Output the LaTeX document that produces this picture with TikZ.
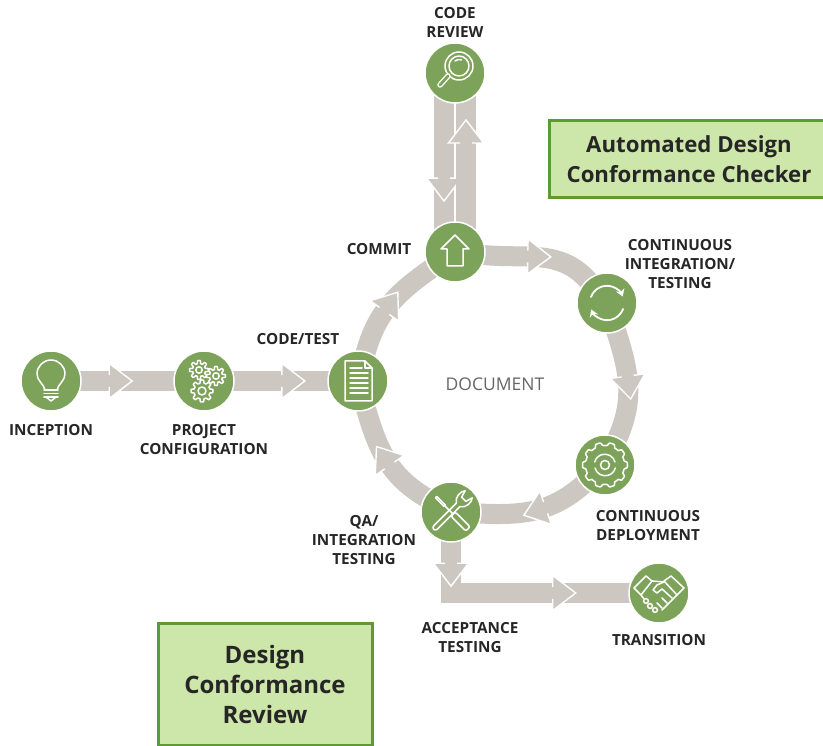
\documentclass[tikz,border=0pt]{standalone}
\usepackage{fontspec}
\setmainfont{Open Sans}
\usetikzlibrary{arrows.meta,backgrounds,decorations.markings}

\definecolor{stepgreen}{HTML}{7DA35A}
\definecolor{bandgrey}{HTML}{CDC7C2}
\definecolor{boxfill}{HTML}{CDE6A9}
\definecolor{boxedge}{HTML}{5E9A32}
\definecolor{labelink}{HTML}{262626}

% Arrow head on a band, base at the mark
\newcommand{\bandhead}{%
    \fill[bandgrey] (0,-17.5) -- (23,0) -- (0,17.5) -- cycle;
    \draw[white,line width=1.4pt,line join=miter] (0,10) -- (0,17.5) -- (23,0) -- (0,-17.5) -- (0,-10);
}

% Gear outline: x, y, radius, teeth
\newcommand{\gearline}[4]{%
    \draw[iconline,shift={(#1,#2)}] plot[domain=0:360,samples=145]
        (\x:{#3+1.5*max(-1,min(1,2.5*cos(#4*\x)))}) -- cycle;
}

\tikzset{
    stepnode/.style={circle,fill=stepgreen,draw=white,line width=1.5pt,minimum size=60pt,inner sep=0pt},
    band/.style={draw=bandgrey,line width=20pt,shorten <=-4pt,shorten >=-4pt},
    headat/.style={postaction={decorate,decoration={markings,mark=at position #1 with {\bandhead}}}},
    steplabel/.style={font=\bfseries\fontsize{15.3}{19}\selectfont,text=labelink,align=center,inner sep=0pt},
    notebox/.style={fill=boxfill,draw=boxedge,line width=3pt,font=\bfseries,text=labelink,align=center,inner sep=0pt},
    iconline/.style={draw=white,line width=1.5pt,line join=round,line cap=round},
}

\begin{document}
\begin{tikzpicture}[x=1pt,y=1pt]
    \useasboundingbox (0,0) rectangle (823,746);

    % Steps
    \node[stepnode] (inception) at (51,365) {};
    \node[stepnode] (project) at (204,365) {};
    \node[stepnode] (codetest) at (358,365) {};
    \node[stepnode] (commit) at (455,494) {};
    \node[stepnode] (review) at (455,673) {};
    \node[stepnode] (integration) at (607,443) {};
    \node[stepnode] (deployment) at (605,281) {};
    \node[stepnode] (qa) at (451,234) {};
    \node[stepnode] (transition) at (659,153) {};

    % Bands
    \begin{scope}[on background layer]
        \draw[band,headat=.3] (inception) -- (project);
        \draw[band,headat=.51] (project) -- (codetest);
        \draw[band,headat=.42] (codetest) to[out=75,in=215] (commit);
        \draw[band,headat=.39] (commit) to[out=-6,in=130] (integration);
        \draw[band,headat=.42] (integration) to[out=-72,in=65] (deployment);
        \draw[band,headat=.4] (deployment) to[out=222,in=-3] (qa);
        \draw[band,headat=.44] (qa) to[out=150,in=-74] (codetest);
        \draw[band,headat=.587] ([xshift=-11pt]review.center) -- ([xshift=-11pt]commit.center);
        \draw[band,headat=.609] ([xshift=11pt]commit.center) -- ([xshift=11pt]review.center);
        \draw[band,headat=.09,headat=.668] (qa) |- (transition);
    \end{scope}

    % Boxes
    \node[notebox,minimum width=280pt,minimum height=77pt,font=\bfseries\fontsize{22.2}{30}\selectfont] (checker) at (689,587)
        {Automated Design\\Conformance Checker};
    \node[notebox,minimum width=214pt,minimum height=122pt,font=\bfseries\fontsize{24}{30}\selectfont] (conformance) at (265,61)
        {Design\\Conformance\\Review};

    % Labels
    \node[steplabel] (inceptionlabel) at (51,316) {INCEPTION};
    \node[steplabel] (projectlabel) at (204,306) {PROJECT\\CONFIGURATION};
    \node[steplabel] (codetestlabel) at (298,407) {CODE/TEST};
    \node[steplabel] (commitlabel) at (379,497) {COMMIT};
    \node[steplabel] (reviewlabel) at (455,724) {CODE\\REVIEW};
    \node[steplabel] (integrationlabel) at (680,482) {CONTINUOUS\\INTEGRATION/\\TESTING};
    \node[steplabel] (deploymentlabel) at (648,220) {CONTINUOUS\\DEPLOYMENT};
    \node[steplabel] (qalabel) at (364,206) {QA/\\INTEGRATION\\TESTING};
    \node[steplabel] (acceptancelabel) at (470,108) {ACCEPTANCE\\TESTING};
    \node[steplabel] (transitionlabel) at (659,106) {TRANSITION};
    \node[font=\fontsize{17.5}{20}\selectfont,text=black!60,inner sep=0pt] (document) at (495,362) {DOCUMENT};

    % Bulb
    \begin{scope}[shift={(inception.center)}]
        \draw[iconline] (-6,-9) .. controls (-7,-3) and (-14,0) .. (-14,7) arc (180:0:14) .. controls (14,0) and (7,-3) .. (6,-9);
        \foreach \y in {-9,-12.5,-16} {
            \draw[iconline] (-7,\y) -- (7,\y);
        }
        \draw[iconline] (-5,-16) -- (0,-20) -- (5,-16);
    \end{scope}

    % Three gears
    \begin{scope}[shift={(project.center)}]
        \gearline{-5}{11}{8}{8}
        \gearline{12}{5}{8}{8}
        \gearline{-2}{-10}{9.5}{8}
        \draw[iconline] (-5,11) circle (3.2);
        \draw[iconline] (12,5) circle (3.2);
        \draw[iconline] (-2,-10) circle (4);
    \end{scope}

    % Page
    \begin{scope}[shift={(codetest.center)}]
        \draw[iconline] (-13,20) -- (7,20) -- (14,13) -- (14,-20) -- (-13,-20) -- cycle;
        \draw[iconline] (7,20) -- (7,13) -- (14,13);
        \foreach \x/\y in {4/13,10/8,10/3,10/-2,10/-7,10/-12} {
            \draw[iconline] (-8,\y) -- (\x,\y);
        }
    \end{scope}

    % Up arrow
    \begin{scope}[shift={(commit.center)}]
        \draw[iconline] (0,17) -- (14,3) -- (8,3) -- (8,-14) -- (-8,-14) -- (-8,3) -- (-14,3) -- cycle;
    \end{scope}

    % Magnifier
    \begin{scope}[shift={(review.center)}]
        \draw[iconline] (4,7) circle (14);
        \draw[iconline] (4,7) circle (10);
        \draw[iconline] (0,12) arc (130:70:6.5);
        \draw[white,line width=5.5pt,line cap=round] (-7,-3) -- (-15,-12);
        \draw[stepgreen,line width=2.8pt,line cap=round] (-7,-3) -- (-15,-12);
    \end{scope}

    % Two turning arrows
    \begin{scope}[shift={(integration.center)}]
        \draw[iconline,line width=1.8pt,-{Stealth[length=7pt,width=9pt]}] (-16,6) arc (160:22:17);
        \draw[iconline,line width=1.8pt,-{Stealth[length=7pt,width=9pt]}] (16,-6) arc (-20:-158:17);
    \end{scope}

    % Big gear
    \begin{scope}[shift={(deployment.center)}]
        \gearline{0}{0}{21}{10}
        \draw[iconline] (10,3) arc (15:165:10.5);
        \draw[iconline] (-10,-3) arc (195:345:10.5);
        \draw[iconline] (0,0) circle (4.5);
    \end{scope}

    % Spanner and screwdriver
    \begin{scope}[shift={(qa.center)}]
        \begin{scope}[rotate=-45]
            \draw[iconline] (-21,-1) -- (-9,-1) -- (-9,1) -- (-21,1) -- cycle;
            \draw[iconline] (-9,0) -- (3,0);
            \draw[iconline,rounded corners=2pt] (3,-3) rectangle (24,3);
        \end{scope}
        \begin{scope}[rotate=45]
            \draw[iconline] (-22,-2.5) -- (10,-2.5);
            \draw[iconline] (-22,2.5) -- (10,2.5);
            \draw[iconline] (-22,-2.5) arc (270:90:2.5);
            \draw[iconline] (10,-2.5) .. controls (13,-8) and (22,-8) .. (25,-5) -- (18,-3) -- (18,3) -- (25,5) .. controls (22,8) and (13,8) .. (10,2.5);
        \end{scope}
    \end{scope}

    % Handshake
    \begin{scope}[shift={(transition.center)}]
        \draw[iconline] (-25,5) -- (-13,17) -- (-7,12) -- (-18,-2) -- cycle;
        \draw[iconline] (25,5) -- (12,17) -- (5,12) -- (18,-2) -- cycle;
        \draw[iconline] (-7,12) -- (5,11);
        \draw[iconline] (5,11) -- (-2,8) -- (-6,3) -- (-2,0) -- (3,4) -- (13,-5);
        \draw[iconline] (18,-2) -- (3,-17);
        \draw[iconline] (-18,-2) -- (-15,-6);
        \foreach \x/\y in {-13/-8,-9/-13,-4/-17} {
            \draw[iconline] (\x,\y) circle (2.4);
        }
        \draw[iconline] (8,-10) -- (3,-5);
        \draw[iconline] (3,-15) -- (-2,-10);
    \end{scope}
\end{tikzpicture}
\end{document}
